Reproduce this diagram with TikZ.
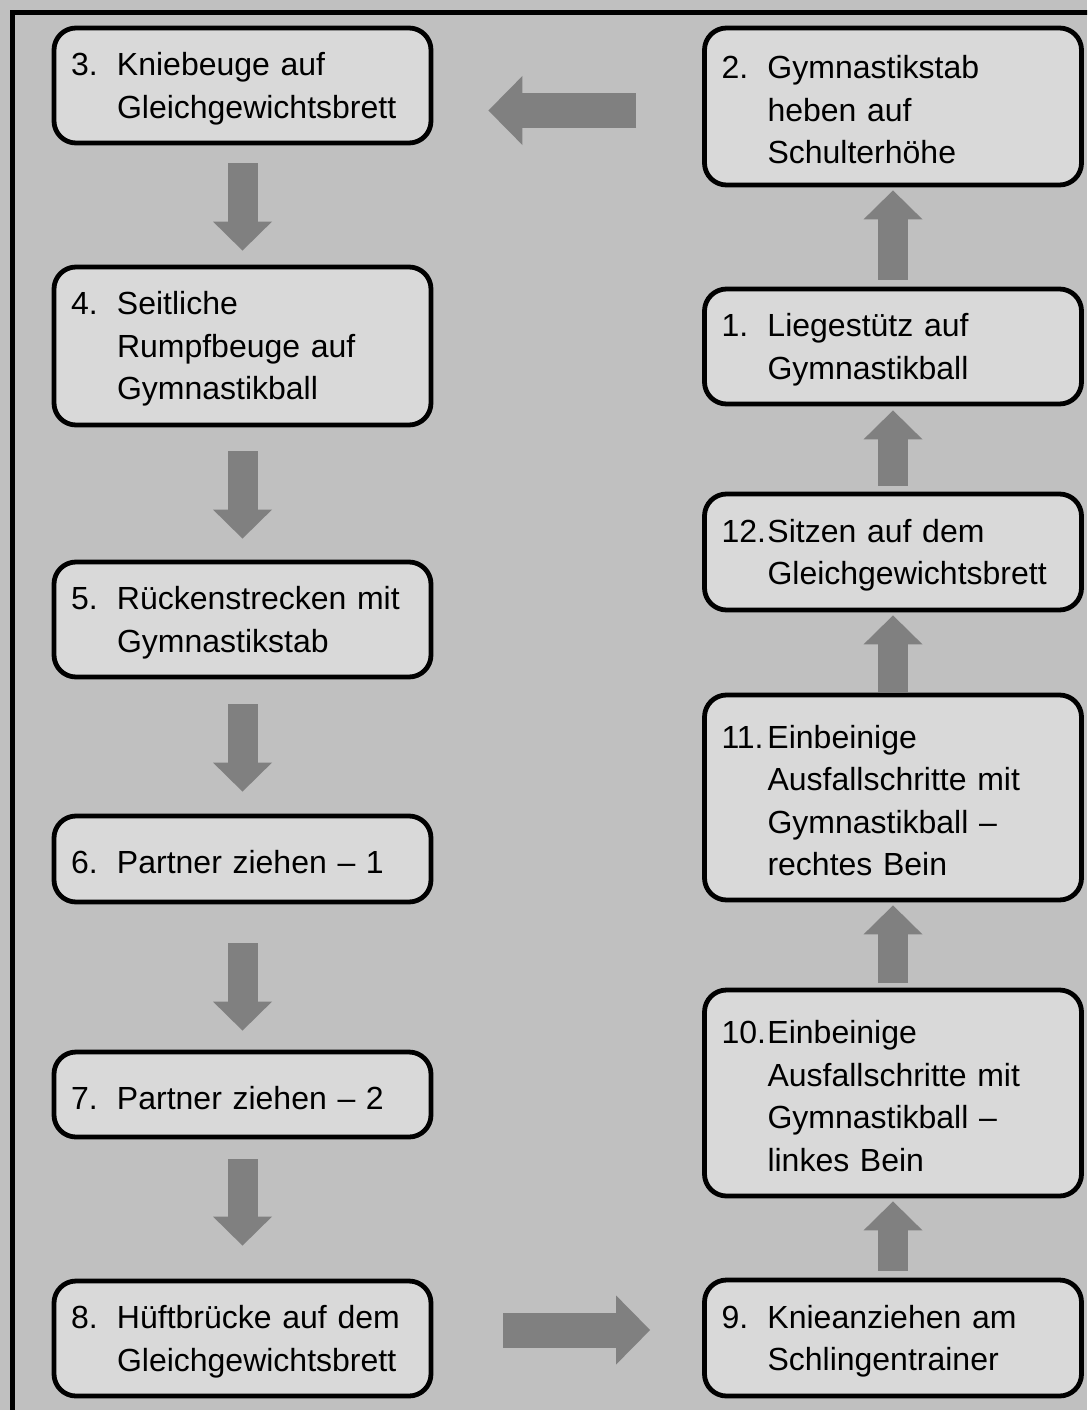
\documentclass[tikz,border=0pt]{standalone}
\usepackage{fontspec}
\setmainfont{Liberation Sans}
\usepackage{xcolor}
\usepackage{tikz}
\usetikzlibrary{arrows.meta, calc}

\definecolor{bggray}{RGB}{192,192,192}
\definecolor{boxgray}{RGB}{217,217,217}
\definecolor{arrowgray}{RGB}{128,128,128}

\newcommand{\nr}[1]{\rule{0pt}{29.5pt}\makebox[46pt][l]{#1}}
\newcommand{\ind}{\hspace*{46pt}}

\begin{document}
\begin{tikzpicture}[x=1pt, y=-1pt,
  exbox/.style={draw=black, line width=4.8pt, fill=boxgray, rounded corners=22pt,
    minimum width=377pt, text width=343pt, inner xsep=17pt, inner ysep=0pt,
    align=left, font=\fontsize{32}{42.5}\selectfont},
  vblock/.style={draw=arrowgray, line width=30pt,
    -{Triangle[width=59pt, length=29pt, line width=0pt]}},
  hblock/.style={draw=arrowgray, line width=35pt,
    -{Triangle[width=69pt, length=34pt, line width=0pt]}}]
  % Background and frame
  \useasboundingbox (0, 0) rectangle (1087, 1410);
  \clip (0, 0) rectangle (1087, 1410);
  \fill[bggray] (0, 0) rectangle (1087, 1410);
  \draw[line width=4.5pt] (12.5, 12.5) rectangle (1110, 1430);

  % Left column
  \node[exbox, minimum height=115pt] (b3) at (242.5, 85.5)
    {\nr{3.}Kniebeuge auf\\\ind Gleichgewichtsbrett};
  \node[exbox, minimum height=158pt] (b4) at (242.5, 346)
    {\nr{4.}Seitliche\\\ind Rumpfbeuge auf\\\ind Gymnastikball};
  \node[exbox, minimum height=115pt] (b5) at (242.5, 619.5)
    {\nr{5.}Rückenstrecken mit\\\ind Gymnastikstab};
  \node[exbox, minimum height=86pt] (b6) at (242.5, 859)
    {\nr{6.}Partner ziehen – 1};
  \node[exbox, minimum height=85pt] (b7) at (242.5, 1094.5)
    {\nr{7.}Partner ziehen – 2};
  \node[exbox, minimum height=115pt] (b8) at (242.5, 1338.5)
    {\nr{8.}Hüftbrücke auf dem\\\ind Gleichgewichtsbrett};

  % Right column
  \node[exbox, minimum height=157pt] (b2) at (893, 106.5)
    {\nr{2.}Gymnastikstab\\\ind heben auf\\\ind Schulterhöhe};
  \node[exbox, minimum height=115pt] (b1) at (893, 346.5)
    {\nr{1.}Liegestütz auf\\\ind Gymnastikball};
  \node[exbox, minimum height=116pt] (b12) at (893, 552)
    {\nr{12.}Sitzen auf dem\\\ind Gleichgewichtsbrett};
  \node[exbox, minimum height=205pt] (b11) at (893, 797.5)
    {\nr{11.}Einbeinige\\\ind Ausfallschritte mit\\\ind Gymnastikball –\\\ind rechtes Bein};
  \node[exbox, minimum height=206pt] (b10) at (893, 1093)
    {\nr{10.}Einbeinige\\\ind Ausfallschritte mit\\\ind Gymnastikball –\\\ind linkes Bein};
  \node[exbox, minimum height=116pt] (b9) at (893, 1338)
    {\nr{9.}Knieanziehen am\\\ind Schlingentrainer};

  % Arrows down the left column
  \draw[vblock, shorten <=18pt, shorten >=14pt] (b3) -- (b4);
  \draw[vblock, shorten <=24pt, shorten >=21pt] (b4) -- (b5);
  \draw[vblock, shorten <=25pt, shorten >=22pt] (b5) -- (b6);
  \draw[vblock, shorten <=39pt, shorten >=19pt] (b6) -- (b7);
  \draw[vblock, shorten <=20pt, shorten >=33pt] (b7) -- (b8);

  % Arrows up the right column
  \draw[vblock, shorten <=7pt, shorten >=3pt] (b9) -- (b10);
  \draw[vblock, shorten <=5pt, shorten >=3pt] (b10) -- (b11);
  \draw[vblock, shorten <=1pt, shorten >=3pt] (b11) -- (b12);
  \draw[vblock, shorten <=6pt, shorten >=4pt] (b12) -- (b1);
  \draw[vblock, shorten <=7pt, shorten >=3pt] (b1) -- (b2);

  % Crossing arrows
  \draw[hblock, shorten <=66pt, shorten >=55pt]
    ([yshift=-4pt]b2.west) -- ([yshift=-4pt]b2.west -| b3.east);
  \draw[hblock, shorten <=70pt, shorten >=52pt]
    ([yshift=8.5pt]b8.east) -- ([yshift=8.5pt]b8.east -| b9.west);
\end{tikzpicture}
\end{document}
